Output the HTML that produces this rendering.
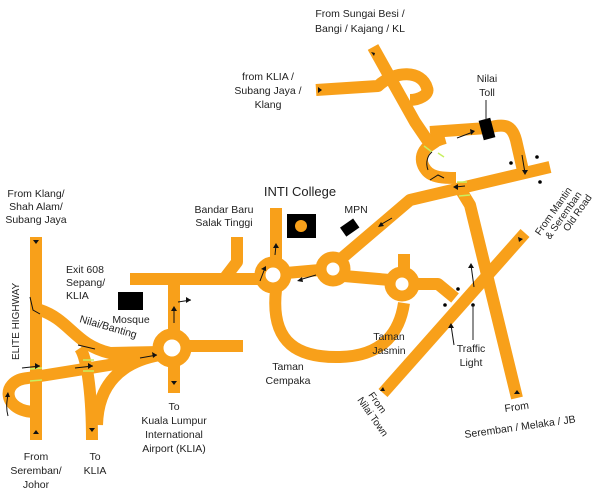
<!DOCTYPE html>
<html><head><style>
body{margin:0;background:#fff}
svg{display:block}
text{font-family:"Liberation Sans",sans-serif;font-size:10.5px;fill:#222}
</style></head><body>
<svg width="600" height="502" viewBox="0 0 600 502" xmlns="http://www.w3.org/2000/svg">
<g fill="none" stroke="#F8A01A" stroke-width="12" stroke-linejoin="round">
<path d="M36 237 L36 440"/>
<path d="M36 412 C2 412 0 380 28 378 L140 360 L162 352"/>
<path d="M40 310 C70 320 75 345 110 353 L160 352"/>
<path d="M92 440 C92 400 88 360 80 348"/>
<path d="M97 425 C98 385 120 362 160 355"/>
<circle cx="172" cy="348" r="14" stroke-width="11"/>
<path d="M174 334 L174 278 M174 362 L174 393 M186 346 L243 346"/>
<path d="M130 279 L260 279"/>
<path d="M237 237 L237 262 L224 279"/>
<circle cx="273" cy="275" r="13" stroke-width="11"/>
<path d="M276 262 L276 208"/>
<path d="M286 273 L320 270"/>
<circle cx="333" cy="269" r="12" stroke-width="11"/>
<path d="M342 258 L410 200 L550 167"/>
<path d="M344 276 L390 280"/>
<circle cx="402" cy="284" r="12" stroke-width="11"/>
<path d="M404 272 L404 254"/>
<path d="M414 284 L438 284 L455 298"/>
<path d="M276 290 C270 345 300 358 340 357 C385 356 400 330 404 303"/>
<path d="M383 393 L525 233"/>
<path d="M517 398 L470 205 L462 192"/>
<path d="M430 132 L487 128 C505 123 512 125 516 140 L524 175"/>
<path d="M373 47 L415 122 L434 150"/>
<path d="M316 90 L378 86 C395 70 422 70 427 88 C430 95 418 100 410 100"/>
<path d="M445 138 C420 145 418 160 426 170 C432 178 445 178 456 178"/>
</g>
<g stroke="#c8f060" stroke-width="1.5">
<line x1="30" y1="369" x2="42" y2="368"/><line x1="30" y1="381" x2="42" y2="380"/>
<line x1="83" y1="360" x2="94" y2="360"/><line x1="83" y1="371" x2="94" y2="371"/>
<line x1="424" y1="146" x2="432" y2="152"/><line x1="438" y1="153" x2="444" y2="157"/>
<line x1="457" y1="182" x2="467" y2="182"/><line x1="459" y1="196" x2="470" y2="195"/>
</g>
<rect x="118" y="292" width="25" height="18" fill="#000"/>
<rect x="287" y="214" width="29" height="24" fill="#000"/>
<circle cx="301" cy="226" r="6" fill="#F8A01A"/>
<rect x="342" y="222" width="16" height="11" fill="#000" transform="rotate(-35 350 228)"/>
<rect x="481" y="119" width="12" height="20" fill="#000" transform="rotate(-15 487 129)"/>
<g fill="#000"><circle cx="511" cy="163" r="1.8"/><circle cx="537" cy="157" r="1.8"/><circle cx="540" cy="182" r="1.8"/>
<circle cx="458" cy="289" r="1.8"/><circle cx="445" cy="305" r="1.8"/><circle cx="473" cy="305" r="1.8"/></g>
<g stroke="#222" stroke-width="1"><line x1="486" y1="100" x2="486" y2="120"/><line x1="473" y1="305" x2="473" y2="340"/></g>
<g stroke="#111" stroke-width="1" fill="none">
<path d="M22 368 L40 366"/><path d="M75 368 L93 366"/><path d="M78 345 L95 349"/>
<path d="M140 358 L157 355"/><path d="M178 302 L191 300"/><path d="M174 323 L174 308"/>
<path d="M275 255 L276 245"/><path d="M260 281 L265 268"/><path d="M316 275 L299 280"/>
<path d="M392 218 L380 225"/><path d="M455 187 L465 186"/><path d="M474 287 L471 265"/>
<path d="M454 345 L451 325"/><path d="M457 138 L473 132"/><path d="M522 155 L525 173"/>
<path d="M8 416 C5 405 8 398 8 393"/><path d="M30 297 L33 310 L40 314"/>
<path d="M430 180 L438 175 L444 178"/><path d="M428 170 C425 162 428 155 432 152"/>
</g>
<g fill="#111">
<path d="M40 366 l-5 -3 l0 6z"/><path d="M93 366 l-5 -3 l0 6z"/><path d="M157 355 l-5 -3 l1 6z"/>
<path d="M191 300 l-5 -3 l0 6z"/><path d="M174 306 l-3 5 l6 0z"/><path d="M276 243 l-3 5 l6 0z"/>
<path d="M266 266 l-5 3 l5 2z"/><path d="M297 281 l5 -4 l1 5z"/><path d="M378 227 l3 -5 l3 4z"/>
<path d="M453 187 l5 -3 l0 6z"/><path d="M471 263 l-3 5 l6 0z"/><path d="M451 323 l-3 5 l6 0z"/>
<path d="M475 131 l-5 -2 l1 6z"/><path d="M525 175 l-3 -5 l6 0z"/>
<path d="M36 244 l-3 -4 l6 0z"/><path d="M36 430 l-3 4 l6 0z"/><path d="M92 432 l-3 -4 l6 0z"/>
<path d="M174 385 l-3 -4 l6 0z"/><path d="M322 90 l-4 -3 l0 6z"/><path d="M375 53 l-4 -1 l3 4z"/>
<path d="M383 387 l-3 4 l5 0z"/><path d="M517 390 l-3 4 l6 0z"/><path d="M518 237 l1 5 l4 -3z"/>
<path d="M8 392 l-3 5 l5 0z"/>
</g>
<g text-anchor="middle">
<text x="36" y="197">From Klang/</text><text x="36" y="210">Shah Alam/</text><text x="36" y="223">Subang Jaya</text>
<text x="66" y="273" text-anchor="start">Exit 608</text>
<text x="66" y="286" text-anchor="start">Sepang/</text><text x="66" y="299" text-anchor="start">KLIA</text>
<text x="131" y="323">Mosque</text>
<text x="36" y="460">From</text><text x="36" y="474">Seremban/</text><text x="36" y="488">Johor</text>
<text x="95" y="460">To</text><text x="95" y="474">KLIA</text>
<text x="174" y="410">To</text><text x="174" y="424">Kuala Lumpur</text><text x="174" y="438">International</text><text x="174" y="452">Airport (KLIA)</text>
<text x="224" y="213">Bandar Baru</text><text x="224" y="226">Salak Tinggi</text>
<text x="300" y="196" style="font-size:13px">INTI College</text>
<text x="356" y="213">MPN</text>
<text x="288" y="370">Taman</text><text x="288" y="384">Cempaka</text>
<text x="389" y="340">Taman</text><text x="389" y="354">Jasmin</text>
<text x="471" y="352">Traffic</text><text x="471" y="366">Light</text>
<text x="360" y="17">From Sungai Besi /</text><text x="360" y="32">Bangi / Kajang / KL</text>
<text x="268" y="80">from KLIA /</text><text x="268" y="94">Subang Jaya /</text><text x="268" y="108">Klang</text>
<text x="487" y="82">Nilai</text><text x="487" y="96">Toll</text>
</g>
<text transform="translate(79 322) rotate(16)">Nilai/Banting</text>
<text transform="translate(19 360) rotate(-90)" style="font-size:10px">ELITE HIGHWAY</text>
<text transform="translate(540 236) rotate(-55)" style="font-size:10px">From Mantin</text>
<text transform="translate(550 240) rotate(-55)" style="font-size:10px">&amp; Seremban</text>
<text transform="translate(568 232) rotate(-55)" style="font-size:10px">Old Road</text>
<text transform="translate(368 395) rotate(55)" style="font-size:10px">From</text>
<text transform="translate(357 400) rotate(55)" style="font-size:10px">Nilai Town</text>
<text transform="translate(505 412) rotate(-8)" style="font-size:10.5px">From</text>
<text transform="translate(465 438) rotate(-8)" style="font-size:10.5px">Seremban / Melaka / JB</text>
</svg>
</body></html>
